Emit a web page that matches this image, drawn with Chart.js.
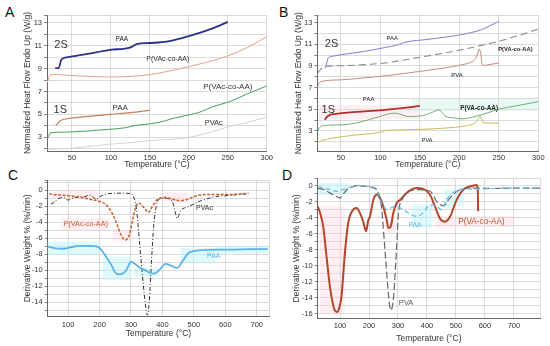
<!DOCTYPE html>
<html><head><meta charset="utf-8">
<script src="https://cdn.jsdelivr.net/npm/chart.js@4.4.0/dist/chart.umd.min.js"></script>
<style>
html,body{margin:0;padding:0;background:#fff;width:550px;height:346px;overflow:hidden;position:relative;}
canvas{position:absolute;}
.lt{position:absolute;font-family:"Liberation Sans",Arial,sans-serif;font-size:14px;color:#111;line-height:14px;}
</style></head><body>
<div class="lt" style="left:5px;top:5px">A</div>
<div class="lt" style="left:279px;top:5px">B</div>
<div class="lt" style="left:8px;top:168px">C</div>
<div class="lt" style="left:282px;top:168px">D</div>
<canvas id="cA" width="275" height="172" style="left:0;top:0"></canvas>
<canvas id="cB" width="275" height="172" style="left:275px;top:0"></canvas>
<canvas id="cC" width="275" height="174" style="left:0;top:172px"></canvas>
<canvas id="cD" width="275" height="174" style="left:275px;top:172px"></canvas>
<script>
// ---------- Panel A (DSC, PVAc system) ----------
const tA_2S_PAA = [28.6, 33, 36.3, 43.6, 70, 99, 124.5, 133, 150, 171.5, 201, 230.6, 250];
const yA_2S_PAA = [9.06, 9.06, 9.78, 10.0, 10.3, 10.65, 10.85, 11.15, 11.25, 11.37, 11.87, 12.53, 13.1];
const tA_2S_CO = [18.5, 20, 22, 30, 43.6, 70, 99, 125, 150, 175, 201, 225, 248, 275, 300];
const yA_2S_CO = [7.8, 8.2, 8.45, 8.5, 8.42, 8.33, 8.28, 8.33, 8.48, 8.8, 9.2, 9.6, 10.07, 10.85, 11.8];
const tA_1S_PAA = [29, 31, 35, 42, 52, 75, 99, 125, 150];
const yA_1S_PAA = [4.05, 4.15, 4.45, 4.6, 4.7, 4.85, 5.0, 5.15, 5.35];
const tA_1S_CO = [18.5, 20, 23, 40, 70, 99, 120, 127, 140, 159, 170, 180, 200, 214, 231, 252, 275, 300];
const yA_1S_CO = [2.9, 3.1, 3.4, 3.45, 3.55, 3.7, 3.85, 3.98, 4.1, 4.27, 4.45, 4.66, 4.95, 5.2, 5.68, 6.11, 6.8, 7.49];
const tA_PVAc = [18.5, 50, 99, 125, 150, 201, 225, 252, 275, 300];
const yA_PVAc = [1.95, 2.04, 2.4, 2.53, 2.7, 3.0, 3.4, 3.93, 4.3, 4.75];

// ---------- Panel B (DSC, PVA system) ----------
const tB_2S_PAA = [29.7, 31, 33.9, 40, 50.8, 80, 106, 122.7, 131, 160, 203, 228, 250];
const yB_2S_PAA = [8.8, 9.0, 9.73, 9.9, 10.04, 10.35, 10.7, 10.96, 11.18, 11.45, 11.9, 12.35, 13.12];
const tB_2S_CO = [20.4, 25, 29.7, 50.8, 80, 105.8, 130, 156.6, 180, 203, 225, 249.5, 275, 300];
const yB_2S_CO = [8.34, 8.75, 8.96, 9.02, 9.12, 9.27, 9.55, 9.88, 10.18, 10.5, 10.85, 11.27, 11.8, 12.4];
const tB_2S_PVA = [20.4, 22, 25.5, 50.8, 80, 106, 130, 156.6, 180, 203, 215, 220, 223, 225, 227, 229, 232, 240, 250];
const yB_2S_PVA = [7.05, 7.4, 7.57, 7.72, 7.9, 8.09, 8.3, 8.56, 8.8, 9.1, 9.35, 9.6, 10.1, 10.56, 10.2, 9.1, 9.05, 9.15, 9.27];
const tB_1S_PAA = [29.7, 31, 36, 42, 50.8, 80, 106, 130, 150];
const yB_1S_PAA = [4.02, 4.2, 4.48, 4.56, 4.64, 4.8, 4.94, 5.12, 5.31];
const tB_1S_CO = [20.4, 22, 25.5, 50.8, 70, 84.6, 100, 110, 118, 125, 135, 152, 165, 174.8, 178, 182, 195, 203, 220, 235, 249.5, 275, 300];
const yB_1S_CO = [2.94, 3.2, 3.46, 3.56, 3.75, 4.02, 4.35, 4.57, 4.64, 4.55, 4.33, 4.39, 4.7, 4.94, 4.7, 4.39, 4.18, 4.11, 4.33, 4.65, 5.0, 5.35, 5.71];
const tB_1S_PVA = [20.4, 22, 25.5, 50.8, 80, 97.3, 106, 130, 156.6, 195, 210, 220, 224, 226, 228, 230, 240, 250];
const yB_1S_PVA = [1.92, 2.0, 2.1, 2.47, 2.7, 2.84, 3.03, 3.1, 3.16, 3.34, 3.5, 3.75, 4.1, 4.38, 4.1, 3.75, 3.73, 3.71];

// ---------- Panel C (DTG, PVAc system) ----------
const tC_PVAc = [45, 55, 70, 85, 100, 120, 150, 170, 190, 200, 230, 270, 300, 310, 318, 326, 335, 345, 352, 358, 365, 372, 380, 390, 410, 430, 440, 447, 458, 470, 484, 516, 568, 620, 673];
const yC_PVAc = [-1.7, -1.5, -1.0, -0.9, -1.2, -0.9, -0.8, -0.6, -1.1, -0.8, -0.4, -0.35, -0.4, -1.0, -2.5, -6.0, -10, -14, -15.6, -14, -9, -4.5, -2.0, -1.1, -1.0, -1.3, -2.6, -3.5, -2.5, -2.2, -2.0, -1.4, -0.8, -0.6, -0.4];
const tC_CO = [40, 53, 85, 137, 169, 200, 221, 242, 258, 268, 282, 295, 305, 316, 326, 342, 356, 368, 389, 410, 432, 455, 474, 500, 516, 570, 621, 674];
const yC_CO = [-0.4, -0.5, -0.6, -0.85, -1.1, -1.38, -1.8, -3.0, -4.5, -5.55, -6.2, -5.55, -3.7, -2.0, -1.6, -2.2, -2.75, -2.0, -1.0, -0.9, -1.1, -1.3, -1.2, -0.8, -0.6, -0.5, -0.5, -0.35];
const tC_PAA = [32, 60, 84, 110, 137, 179, 200, 221, 237, 253, 265, 274, 285, 300, 316, 330, 347, 360, 374, 389, 410, 432, 447, 463, 484, 516, 570, 621, 680, 735];
const yC_PAA = [-7.03, -7.25, -7.3, -7.1, -6.95, -6.95, -7.2, -8.3, -9.3, -10.4, -10.5, -10.4, -10.0, -8.9, -9.3, -9.7, -10.0, -10.3, -10.4, -10.0, -9.2, -9.5, -9.7, -8.9, -7.8, -7.5, -7.4, -7.4, -7.35, -7.35];

// ---------- Panel D (DTG, PVA system) ----------
const tD_CO = [23, 32, 42, 53.6, 65, 82, 90, 98, 105, 116.7, 128, 145.7, 157, 168.4, 180, 189.7, 197.7, 203, 214.9, 226.4, 238, 249.4, 261, 266.7, 275, 284, 295.4, 307, 330, 364, 387, 410, 427.6, 444.8, 462, 479.3, 502, 525, 548, 571, 575.4, 576.5];
const yD_CO = [-2.6, -3.5, -5.1, -8.9, -12.6, -15.6, -15.8, -15.2, -13.9, -8.5, -4.7, -3.0, -2.8, -3.4, -4.5, -5.7, -4.3, -3.9, -1.8, -1.1, -1.55, -2.6, -4.3, -5.3, -5.1, -3.4, -2.2, -1.8, -0.9, -0.3, -0.4, -1.1, -2.6, -4.1, -4.5, -3.9, -1.8, -0.5, -0.1, 0.1, -0.5, -3.2];
const tD_PVA = [23, 45, 65, 85, 100, 112, 123, 140, 157, 192, 226, 238, 244, 256, 267.8, 272, 275.9, 280, 285, 294, 302, 313.7, 330.7, 365, 411, 434, 457, 479, 514, 571, 630, 686, 740, 790];
const yD_PVA = [-0.3, -0.5, -0.9, -1.3, -1.55, -1.0, -0.5, -0.2, 0.0, -0.1, -0.5, -1.5, -3.0, -8.5, -13.9, -15.2, -15.6, -15.2, -13.9, -8.5, -3.4, -1.8, -0.9, -0.5, -0.7, -2.0, -2.5, -1.55, -0.5, -0.3, -0.35, -0.3, -0.3, -0.3];
const tD_PAA = [23, 45, 65, 88, 110, 135, 160, 200, 226, 238, 250, 261, 275, 295, 318, 340, 364, 387, 410, 434, 451, 467, 490, 525, 571, 630, 686, 790];
const yD_PAA = [-0.1, -0.3, -0.5, -0.7, -0.5, -0.2, 0.0, -0.1, -0.4, -1.8, -2.5, -3.0, -2.8, -2.6, -3.0, -3.5, -3.85, -3.4, -2.4, -2.6, -3.0, -1.8, -0.9, -0.4, -0.4, -0.35, -0.3, -0.3];

// tick values
const xTicksDSC = [50, 100, 150, 200, 250, 300];
const xTicksTGA = [100, 200, 300, 400, 500, 600, 700];
const yTicksDSC = [2, 3, 4, 5, 6, 7, 8, 9, 10, 11, 12, 13];
const yTicksTGA = [-16, -15, -14, -13, -12, -11, -10, -9, -8, -7, -6, -5, -4, -3, -2, -1, 0, 1];

const FONT = '"Liberation Sans", Arial, sans-serif';
const pts = (xs, ys) => xs.map((x, i) => ({x: x, y: ys[i]}));
const uniq = arr => arr.filter((v, i) => arr.indexOf(v) === i);

function notesPlugin(texts, boxes) {
  return {
    id: 'notes',
    beforeDatasetsDraw(chart) {
      const {ctx, chartArea: a} = chart, sx = chart.scales.x, sy = chart.scales.y;
      ctx.save();
      ctx.beginPath(); ctx.rect(a.left, a.top, a.width, a.height); ctx.clip();
      boxes.forEach(b => {
        const x0 = sx.getPixelForValue(b.x0), x1 = sx.getPixelForValue(b.x1);
        const y0 = sy.getPixelForValue(b.y0), y1 = sy.getPixelForValue(b.y1);
        ctx.fillStyle = b.c;
        ctx.fillRect(Math.min(x0, x1), Math.min(y0, y1), Math.abs(x1 - x0), Math.abs(y1 - y0));
      });
      ctx.restore();
    },
    afterDatasetsDraw(chart) {
      const {ctx} = chart, sx = chart.scales.x, sy = chart.scales.y;
      ctx.save();
      texts.forEach(t => {
        ctx.font = (t.b ? 'bold ' : '') + t.s + 'px ' + FONT;
        ctx.fillStyle = t.c;
        ctx.textAlign = 'center';
        ctx.textBaseline = 'middle';
        ctx.fillText(t.t, sx.getPixelForValue(t.x), sy.getPixelForValue(t.y));
      });
      ctx.restore();
    }
  };
}

function ds(xs, ys, color, width, dash) {
  return {data: pts(xs, ys), borderColor: color, borderWidth: width, borderDash: dash || [],
          pointRadius: 0, cubicInterpolationMode: 'monotone', fill: false};
}

function makeChart(id, p) {
  new Chart(document.getElementById(id), {
    type: 'line',
    data: {datasets: p.datasets},
    options: {
      responsive: false, animation: false, devicePixelRatio: 1,
      layout: {padding: {top: p.padTop, right: p.padRight, left: 0, bottom: 0}},
      plugins: {legend: {display: false}, tooltip: {enabled: false}},
      scales: {
        x: {
          type: 'linear', min: p.xmin, max: p.xmax,
          afterBuildTicks: s => { s.ticks = uniq(p.xTicks.filter(v => v > p.xmin && v <= p.xmax).concat([p.xmax])).map(v => ({value: v})); },
          afterFit: s => { s.height = p.xH; },
          ticks: {autoSkip: false, maxRotation: 0, padding: p.xTickPad, color: '#333',
                  font: {family: FONT, size: 7.5},
                  callback: v => p.xTicks.includes(v) ? String(v) : ''},
          grid: {color: '#d2d2d2', lineWidth: 0.8, drawTicks: false},
          border: {color: '#666', width: 1},
          title: {display: true, text: 'Temperature (°C)', color: '#333',
                  font: {family: FONT, size: 8.5}, padding: {top: 0, bottom: p.xTitlePad}}
        },
        y: {
          type: 'linear', min: p.ymin, max: p.ymax,
          afterBuildTicks: s => { s.ticks = uniq(p.yTicks.filter(v => v > p.ymin && v < p.ymax).concat([p.ymax])).map(v => ({value: v})); },
          afterFit: s => { s.width = p.yW; },
          ticks: {autoSkip: false, padding: 2, color: '#333', font: {family: FONT, size: 7.5},
                  callback: v => p.yLabel(v) ? String(v) : ''},
          grid: {color: '#d2d2d2', lineWidth: 0.8, tickLength: 3, tickColor: '#666'},
          border: {color: '#666', width: 1},
          title: {display: true, text: p.yTitle, color: '#333',
                  font: {family: FONT, size: 8.5}, padding: {top: p.yTitlePad, bottom: 0}}
        }
      }
    },
    plugins: [notesPlugin(p.texts, p.boxes)]
  });
}

const isOdd = v => Number.isInteger(v) && Math.abs(v % 2) === 1;
const isEven = v => Number.isInteger(v) && v % 2 === 0;
const PINK = 'rgba(255,205,215,0.32)', CYAN = 'rgba(185,245,250,0.45)', GREENB = 'rgba(205,242,228,0.45)';

makeChart('cA', {
  padTop: 15, padRight: 8, yW: 47, xH: 21, xTickPad: 2, xTitlePad: 1.9, yTitlePad: 22.9,
  xmin: 18, xmax: 300, xTicks: xTicksDSC, ymin: 1.8, ymax: 13.7, yTicks: yTicksDSC, yLabel: isOdd,
  yTitle: 'Normalized Heat Flow Endo Up (W/g)',
  datasets: [
    ds(tA_PVAc, yA_PVAc, '#d4d4d4', 1),
    ds(tA_1S_CO, yA_1S_CO, '#4e9a5c', 1),
    ds(tA_1S_PAA, yA_1S_PAA, '#c47f5e', 1.2),
    ds(tA_2S_CO, yA_2S_CO, '#e2a48a', 1),
    ds(tA_2S_PAA, yA_2S_PAA, '#2e3088', 1.8)
  ],
  texts: [
    {t: '2S', x: 36, y: 11.05, s: 11, c: '#333'},
    {t: 'PAA', x: 114, y: 11.6, s: 6.5, c: '#222'},
    {t: 'P(VAc-co-AA)', x: 173, y: 9.85, s: 7, c: '#333'},
    {t: 'P(VAc-co-AA)', x: 250, y: 7.43, s: 8, c: '#333'},
    {t: '1S', x: 35, y: 5.39, s: 11, c: '#333'},
    {t: 'PAA', x: 112, y: 5.6, s: 8, c: '#333'},
    {t: 'PVAc', x: 232, y: 4.28, s: 7.5, c: '#333'}
  ],
  boxes: []
});

makeChart('cB', {
  padTop: 15, padRight: 11.7, yW: 42.3, xH: 20.5, xTickPad: 2, xTitlePad: 2.2, yTitlePad: 18.2,
  xmin: 20, xmax: 300, xTicks: xTicksDSC, ymin: 1.1, ymax: 13.7, yTicks: yTicksDSC, yLabel: isOdd,
  yTitle: 'Normalized Heat Flow Endo Up (W/g)',
  datasets: [
    ds(tB_1S_PVA, yB_1S_PVA, '#c5bd5a', 1),
    ds(tB_1S_CO, yB_1S_CO, '#6fae72', 1),
    ds(tB_1S_PAA, yB_1S_PAA, '#b3302a', 1.8),
    ds(tB_2S_PVA, yB_2S_PVA, '#c48d80', 1),
    ds(tB_2S_CO, yB_2S_CO, '#8a8a8a', 1.1, [7, 4]),
    ds(tB_2S_PAA, yB_2S_PAA, '#7b7fcf', 1)
  ],
  texts: [
    {t: '2S', x: 38, y: 11.03, s: 11, c: '#333'},
    {t: 'PAA', x: 115, y: 11.52, s: 6, c: '#222'},
    {t: 'P(VA-co-AA)', x: 271, y: 10.5, s: 5.8, c: '#222', b: true},
    {t: 'PVA', x: 197, y: 8.09, s: 6, c: '#222'},
    {t: '1S', x: 34, y: 4.94, s: 11, c: '#333'},
    {t: 'PAA', x: 85, y: 5.94, s: 6, c: '#222'},
    {t: 'P(VA-co-AA)', x: 225, y: 5.06, s: 6.4, c: '#222', b: true},
    {t: 'PVA', x: 159, y: 2.1, s: 5.5, c: '#222'}
  ],
  boxes: [
    {x0: 22, x1: 150, y0: 4.1, y1: 5.4, c: PINK},
    {x0: 140, x1: 300, y0: 4.85, y1: 5.95, c: GREENB}
  ]
});

makeChart('cC', {
  padTop: 8, padRight: 5.7, yW: 47.7, xH: 29.3, xTickPad: 3.3, xTitlePad: 7.6, yTitlePad: 22.9,
  xmin: 35, xmax: 740, xTicks: xTicksTGA, ymin: -15.8, ymax: 1.3, yTicks: yTicksTGA, yLabel: isEven,
  yTitle: 'Derivative Weight % (%/min)',
  datasets: [
    ds(tC_PAA, yC_PAA, '#5db3e6', 1.8),
    ds(tC_CO, yC_CO, '#c4602c', 1.5, [3, 1.5]),
    ds(tC_PVAc, yC_PVAc, '#333333', 1, [4, 2, 1, 2])
  ],
  texts: [
    {t: 'PVAc', x: 534, y: -2.21, s: 7, c: '#333'},
    {t: 'P(VAc-co-AA)', x: 156, y: -4.22, s: 7.2, c: '#c0602a'},
    {t: 'PAA', x: 563, y: -8.2, s: 6.8, c: '#5db3e6'}
  ],
  boxes: [
    {x0: 53, x1: 200, y0: -1.1, y1: 0, c: PINK},
    {x0: 79, x1: 232, y0: -5.1, y1: -3.5, c: PINK},
    {x0: 242, x1: 305, y0: -4.9, y1: -6.4, c: PINK},
    {x0: 400, x1: 484, y0: -0.25, y1: -1.4, c: PINK},
    {x0: 32, x1: 200, y0: -6.4, y1: -8.1, c: CYAN},
    {x0: 211, x1: 300, y0: -8.3, y1: -11.2, c: CYAN},
    {x0: 310, x1: 389, y0: -9.7, y1: -10.8, c: CYAN},
    {x0: 458, x1: 568, y0: -7.2, y1: -9.1, c: CYAN},
    {x0: 568, x1: 740, y0: -7.0, y1: -7.9, c: CYAN}
  ]
});

makeChart('cD', {
  padTop: 6.3, padRight: 10, yW: 42.7, xH: 27.7, xTickPad: 3, xTitlePad: 2.6, yTitlePad: 16.6,
  xmin: 23, xmax: 790, xTicks: xTicksTGA, ymin: -16.6, ymax: 0.9, yTicks: yTicksTGA, yLabel: isEven,
  yTitle: 'Derivative Weight % (%/min)',
  datasets: [
    ds(tD_PAA, yD_PAA, '#6ab8e8', 1.2, [5, 3]),
    ds(tD_PVA, yD_PVA, '#666666', 1.2, [7, 3]),
    ds(tD_CO, yD_CO, '#b5462a', 2)
  ],
  texts: [
    {t: 'PAA', x: 359, y: -4.9, s: 6.8, c: '#6ab8e8'},
    {t: 'P(VA-co-AA)', x: 588, y: -4.48, s: 8.2, c: '#c0502a'},
    {t: 'PVA', x: 328, y: -14.66, s: 7.5, c: '#555'}
  ],
  boxes: [
    {x0: 31, x1: 117, y0: -16, y1: -2.6, c: PINK},
    {x0: 258, x1: 293, y0: -4.3, y1: -5.9, c: PINK},
    {x0: 433, x1: 513, y0: -3.8, y1: -5.3, c: PINK},
    {x0: 520, x1: 700, y0: -3.8, y1: -5.2, c: PINK},
    {x0: 25, x1: 128, y0: 0.33, y1: -1.13, c: CYAN},
    {x0: 349, x1: 418, y0: -2.4, y1: -5.3, c: CYAN},
    {x0: 460, x1: 529, y0: -0.5, y1: -2.6, c: CYAN}
  ]
});
</script>
</body></html>
